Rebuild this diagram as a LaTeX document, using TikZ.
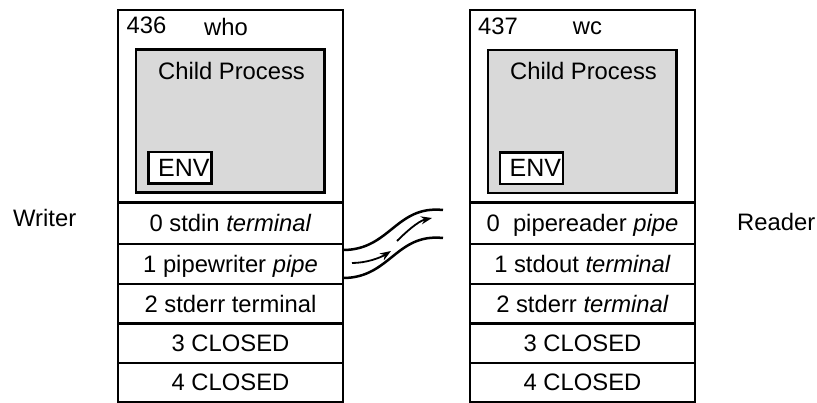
\documentclass[tikz,border=0pt]{standalone}
\usepackage{fontspec}
\setmainfont{Liberation Sans}
\usetikzlibrary{arrows.meta}
\definecolor{procgray}{RGB}{217,217,217}
\newcommand\diagfont{\fontsize{23.8pt}{28pt}\selectfont}
\newcommand\envfont{\fontsize{25pt}{29pt}\selectfont}
\begin{document}
\begin{tikzpicture}[x=1pt,y=-1pt,
  box/.style={draw, line width=2.4pt, inner sep=0pt, outer sep=0pt, anchor=north west},
  procframe/.style={box, line width=2.8pt, minimum width=225pt, minimum height=192.5pt},
  fdrow/.style={box, minimum width=225pt, font=\diagfont, text height=17pt, text depth=0pt},
  childbox/.style={box, fill=procgray, minimum width=188.5pt, minimum height=143pt},
  envbox/.style={box, fill=white, minimum height=31.5pt, inner xsep=2pt, text width=59pt,
    align=right, font=\envfont, text height=17.5pt, text depth=0pt},
  txt/.style={inner sep=0pt, font=\diagfont},
  pipeline/.style={line width=2.5pt},
  flow/.style={line width=1.8pt, -{Stealth[length=11pt,width=8pt]}}
]
\useasboundingbox (0,0) rectangle (817,403);

% ---- writer process (who) ----
\node[procframe] (wframe) at (118,10) {};
\node[txt, anchor=base west] (wpid) at (126.5,34) {436};
\node[txt, anchor=base] (wcmd) at (226,36) {who};
\node[childbox] (wchild) at (136,49.5) {};
\node[txt, anchor=base] (wchildlbl) at (231.5,80) {Child Process};
\node[envbox] (wenv) at (148.5,152) {ENV};
\node[fdrow, minimum height=41.5pt] (w0) at (118,202.5) {0 stdin \textit{terminal}};
\node[fdrow, minimum height=40pt]   (w1) at (118,244)   {1 pipewriter \textit{pipe}};
\node[fdrow, minimum height=39.5pt] (w2) at (118,284)   {2 stderr terminal};
\node[fdrow, minimum height=39.5pt] (w3) at (118,323.5) {3 CLOSED};
\node[fdrow, minimum height=39pt]   (w4) at (118,363)   {4 CLOSED};
% outer sides of the descriptor table
\draw[line width=2.8pt] (w0.north west) -- (w4.south west);
\draw[line width=2.8pt] (w0.north east) -- (w4.south east);

% ---- reader process (wc) ----
\node[procframe] (rframe) at (470,10) {};
\node[txt, anchor=base west] (rpid) at (478,35) {437};
\node[txt, anchor=base] (rcmd) at (587.5,35) {wc};
\node[childbox] (rchild) at (488,50) {};
\node[txt, anchor=base] (rchildlbl) at (583.5,80) {Child Process};
\node[envbox] (renv) at (500,152.5) {ENV};
\node[fdrow, minimum height=41.5pt] (r0) at (470,202.5) {0\ \ pipereader \textit{pipe}};
\node[fdrow, minimum height=40pt]   (r1) at (470,244)   {1 stdout \textit{terminal}};
\node[fdrow, minimum height=39.5pt] (r2) at (470,284)   {2 stderr \textit{terminal}};
\node[fdrow, minimum height=39.5pt] (r3) at (470,323.5) {3 CLOSED};
\node[fdrow, minimum height=39pt]   (r4) at (470,363)   {4 CLOSED};
\draw[line width=2.8pt] (r0.north west) -- (r4.south west);
\draw[line width=2.8pt] (r0.north east) -- (r4.south east);

% ---- side labels ----
\node[txt, anchor=base west] (writer) at (13,226.5) {Writer};
\node[txt, anchor=base west] (reader) at (737,230.5) {Reader};

% ---- the pipe leaving descriptor 1 of the writer ----
\coordinate (pupper) at ([yshift=14pt]w1.east);
\coordinate (plower) at ([yshift=-14pt]w1.east);
\coordinate (eupper) at (443,210);
\coordinate (elower) at (443,238);
\draw[pipeline] (pupper) .. controls (390,250) and (396,205) .. (eupper);
\draw[pipeline] (plower) .. controls (390,278) and (396,233) .. (elower);

% data flow inside the pipe
\coordinate (fa1) at (352,263);
\coordinate (fa2) at (391,251);
\coordinate (fb1) at (397,241);
\coordinate (fb2) at (432,218);
\draw[flow] (fa1) .. controls (366,263) and (380,258) .. (fa2);
\draw[flow] (fb1) .. controls (405,233) and (418,221) .. (fb2);
\end{tikzpicture}
\end{document}
